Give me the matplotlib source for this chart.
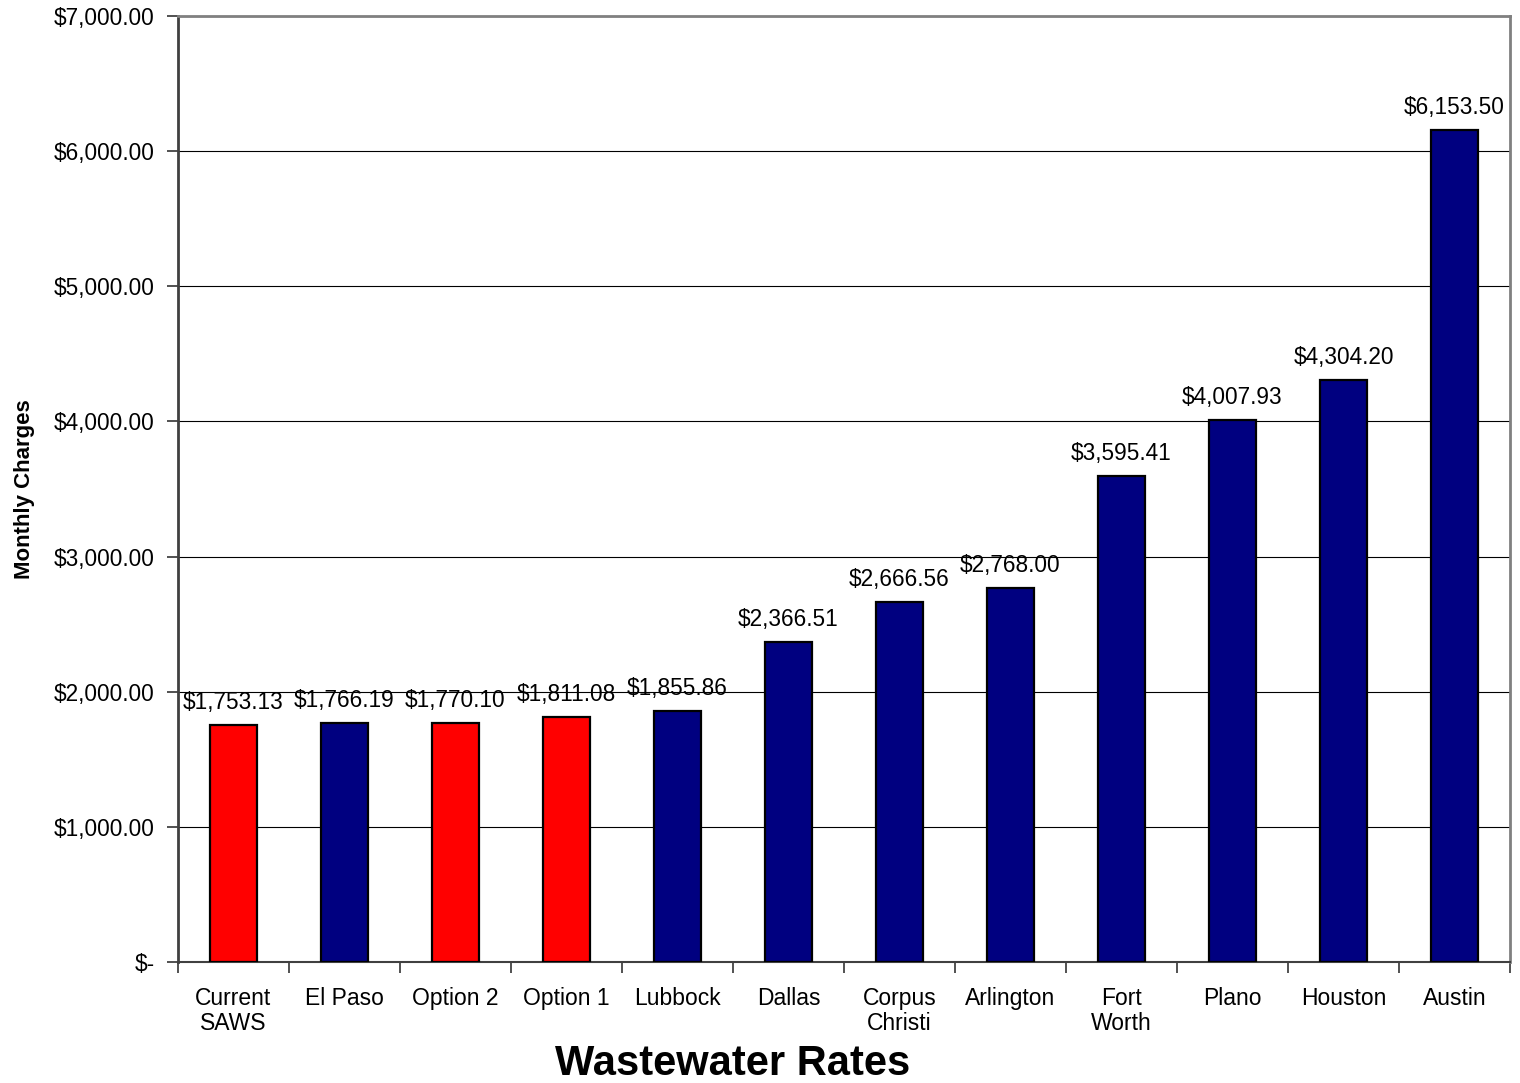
import numpy as np
import matplotlib
matplotlib.use("Agg")
import matplotlib.pyplot as plt
import matplotlib.ticker as ticker

plt.rcParams["font.family"] = ["Liberation Sans", "DejaVu Sans"]

# ── Data ──────────────────────────────────────────────────────────────────────
categories = ["Current\nSAWS", "El Paso", "Option 2", "Option 1", "Lubbock",
              "Dallas", "Corpus\nChristi", "Arlington", "Fort\nWorth",
              "Plano", "Houston", "Austin"]
charges = [1753.13, 1766.19, 1770.10, 1811.08, 1855.86, 2366.51,
           2666.56, 2768.00, 3595.41, 4007.93, 4304.20, 6153.50]
is_saws = [True, False, True, True, False, False,
           False, False, False, False, False, False]
y_ticks = [0, 1000, 2000, 3000, 4000, 5000, 6000, 7000]

# ── Figure ────────────────────────────────────────────────────────────────────
fig = plt.figure(figsize=(15.2, 10.83), dpi=100)
ax = fig.add_axes([0.1171, 0.1117, 0.8763, 0.8735])

x = np.arange(len(categories))
colors = ["#FF0000" if s else "#000080" for s in is_saws]
ax.bar(x, charges, width=0.42, color=colors, edgecolor="black",
       linewidth=1.6, zorder=3)

for xi, v in zip(x, charges):
    ax.annotate(f"${v:,.2f}", xy=(xi, v), xytext=(0, 8),
                textcoords="offset points", ha="center", va="bottom",
                fontsize=16.3, zorder=4)

ax.set_xlim(-0.5, len(categories) - 0.5)
ax.set_ylim(0, 7000)
ax.set_yticks(y_ticks)
ax.yaxis.set_major_formatter(ticker.FuncFormatter(
    lambda v, p: "$-" if v == 0 else f"${v:,.2f}"))
ax.grid(True, axis="y", color="black", linewidth=0.8, zorder=0)

ax.set_xticks(x)
ax.set_xticklabels(categories, fontsize=16.5, linespacing=1.1)
ax.set_xticks(np.arange(-0.5, len(categories)), minor=True)
ax.tick_params(axis="x", which="major", length=0, pad=18)
ax.tick_params(axis="x", which="minor", length=8, width=1.2, color="#333333")
ax.tick_params(axis="y", length=8, width=1.2, color="#333333",
               labelsize=16.3, pad=9)

for side in ("top", "right"):
    ax.spines[side].set_color("#808080")
    ax.spines[side].set_linewidth(2)
ax.spines["left"].set_color("#404040")
ax.spines["left"].set_linewidth(2)
ax.spines["bottom"].set_color("#404040")
ax.spines["bottom"].set_linewidth(1.5)

ax.set_ylabel("Monthly Charges", fontsize=16, fontweight="bold", labelpad=13)
fig.text(733 / 1520, 1 - 1064 / 1083, "Wastewater Rates", fontsize=30,
         fontweight="bold", ha="center", va="center")

fig.savefig("out.png", dpi=100)
